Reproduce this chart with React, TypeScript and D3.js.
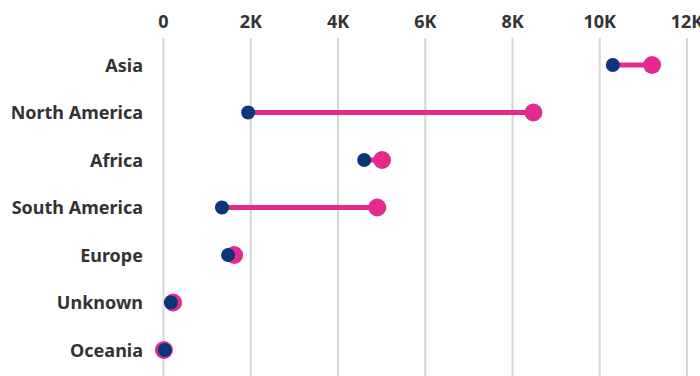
import React from "react";
import * as d3 from "d3";

const categories = ["Asia", "North America", "Africa", "South America", "Europe", "Unknown", "Oceania"];
const startValues = [10300, 1940, 4600, 1340, 1480, 170, 30];
const endValues = [11200, 8480, 5010, 4900, 1620, 220, 10];
const tickValues = [0, 2000, 4000, 6000, 8000, 10000, 12000];

const W = 700;
const H = 376;

export default function App() {
  const x = d3.scaleLinear().domain([0, 12000]).range([163.5, 687]);
  const y = d3.scalePoint<string>().domain(categories).range([65, 350]);
  const fmt = (v: number) => (v === 0 ? "0" : `${v / 1000}K`);
  const font = "'Source Sans Pro', 'Noto Sans', sans-serif";
  return (
    <div style={{ position: "fixed", left: 0, top: 0 }}>
      <svg width={W} height={H} style={{ display: "block" }}>
        <rect width={W} height={H} fill="#fff" />
        {tickValues.map((t) => (
          <g key={t}>
            <line x1={x(t)} x2={x(t)} y1={38} y2={H} stroke="#d6d6d6" strokeWidth={2} />
            <text
              x={x(t)}
              y={28}
              textAnchor="middle"
              fontFamily={font}
              fontWeight={700}
              fontSize={18}
              fill="#333"
            >
              {fmt(t)}
            </text>
          </g>
        ))}
        {categories.map((c, i) => (
          <g key={c}>
            <text
              x={143}
              y={(y(c) as number) + 6.5}
              textAnchor="end"
              fontFamily={font}
              fontWeight={700}
              fontSize={18}
              fill="#333"
            >
              {c}
            </text>
            <line
              x1={x(startValues[i])}
              x2={x(endValues[i])}
              y1={y(c)}
              y2={y(c)}
              stroke="#e52a8f"
              strokeWidth={5}
            />
            <circle cx={x(endValues[i])} cy={y(c)} r={9} fill="#e52a8f" />
            <circle cx={x(startValues[i])} cy={y(c)} r={7} fill="#0b367c" />
          </g>
        ))}
      </svg>
    </div>
  );
}
